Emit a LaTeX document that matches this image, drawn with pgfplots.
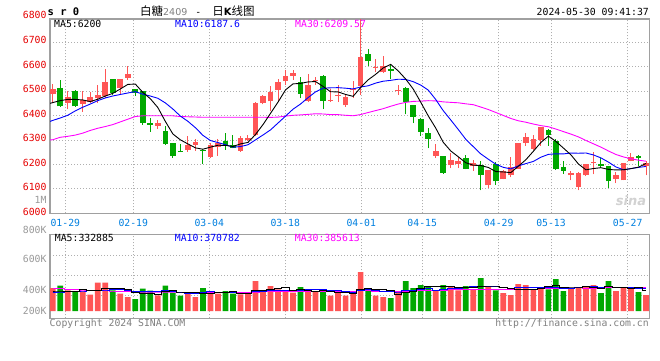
\documentclass[border=0pt]{standalone}
\usepackage{pgfplots}
\pgfplotsset{compat=1.18}
\usepackage{pgfplotstable}
\usepackage{fontspec}
\setmainfont{DejaVu Sans}
\newfontfamily\mono{DejaVu Sans Mono}
\newfontfamily\cjk{Noto Sans CJK SC}
\definecolor{cred}{RGB}{255,85,85}
\definecolor{cgreen}{RGB}{0,168,0}
\definecolor{pred}{RGB}{230,0,0}
\definecolor{dblue}{RGB}{0,128,224}
\definecolor{lgray}{RGB}{153,153,153}
\definecolor{gridc}{RGB}{175,175,175}
\definecolor{bordc}{RGB}{160,160,160}
\definecolor{mamag}{RGB}{255,0,255}
\definecolor{mablue}{RGB}{0,0,255}
\newcommand{\tf}{\mono\fontsize{9.8}{10}\selectfont}

\pgfplotstableread{
k o h l c
0 6490 6531 6450 6507
2 6450 6500 6426 6474
4 6447 6500 6415 6462
5 6455 6496 6450 6474
6 6470 6527 6453 6486
7 6480 6591 6473 6539
9 6511 6551 6490 6551
10 6554 6601 6547 6568
14 6358 6382 6347 6371
18 6261 6315 6252 6279
19 6281 6304 6256 6290
21 6231 6288 6228 6279
22 6270 6304 6236 6288
25 6256 6315 6252 6309
26 6301 6320 6297 6309
27 6320 6455 6315 6450
28 6450 6486 6446 6480
29 6458 6520 6419 6496
30 6503 6550 6459 6539
31 6541 6588 6527 6560
32 6561 6588 6547 6573
34 6459 6572 6455 6527
35 6541 6557 6527 6547
37 6462 6509 6455 6465
38 6480 6527 6455 6486
39 6442 6485 6436 6474
40 6503 6543 6473 6509
41 6520 6795 6486 6639
43 6596 6631 6577 6599
44 6577 6645 6574 6604
46 6503 6523 6486 6506
51 6236 6284 6227 6255
53 6196 6247 6185 6219
54 6202 6232 6185 6215
56 6192 6219 6175 6204
58 6114 6179 6104 6179
60 6139 6179 6139 6174
61 6155 6232 6147 6191
62 6182 6288 6182 6288
63 6288 6327 6277 6312
64 6263 6320 6261 6304
65 6300 6354 6277 6354
69 6155 6175 6135 6166
70 6108 6169 6094 6166
71 6155 6202 6152 6201
72 6205 6250 6159 6208
75 6141 6169 6124 6155
76 6135 6205 6135 6205
77 6212 6247 6212 6231
79 6192 6212 6155 6205
}\upc

\pgfplotstableread{
k o h l c
1 6511 6545 6435 6438
3 6500 6503 6435 6438
8 6551 6551 6486 6493
11 6507 6509 6480 6493
12 6499 6500 6362 6370
13 6371 6389 6334 6362
15 6336 6358 6279 6284
16 6288 6288 6228 6236
17 6256 6284 6250 6250
20 6261 6263 6202 6256
23 6296 6328 6261 6277
24 6280 6320 6266 6267
33 6539 6558 6470 6489
36 6560 6564 6426 6459
42 6653 6673 6601 6622
45 6592 6612 6551 6583
47 6511 6516 6405 6455
48 6442 6442 6369 6396
49 6385 6388 6317 6334
50 6328 6348 6266 6304
52 6233 6236 6162 6164
55 6227 6239 6180 6182
57 6196 6212 6094 6158
59 6202 6209 6117 6131
66 6340 6347 6277 6320
67 6296 6304 6178 6182
68 6191 6212 6162 6175
73 6202 6225 6185 6192
74 6192 6192 6104 6131
78 6235 6239 6192 6225
}\dnc

\pgfplotstableread{
k m5 m10 m30
-0.36 6450 6376 6300
0 6453 6380 6301
1 6461 6390 6311
2 6466 6401 6315
3 6466 6419 6320
4 6463.8 6434 6328
5 6457.2 6447 6339
6 6466.8 6461 6348
7 6479.8 6472 6355
8 6490.8 6480 6363
9 6508.6 6486.2 6374
10 6527.4 6492.3 6385
11 6528.8 6497.8 6396
12 6495 6487.4 6399
13 6468.8 6479.8 6399
14 6432.8 6470.7 6399
15 6376 6451.7 6399
16 6324.6 6426.7 6399
17 6300.6 6397.8 6396
18 6284 6376.4 6395
19 6267.8 6350.3 6394
20 6262.2 6319.1 6393
21 6270.8 6297.7 6393
22 6278.4 6289.5 6393
23 6278 6281 6393
24 6273.4 6270.6 6393
25 6284 6273.1 6393
26 6290 6280.4 6393
27 6322.4 6300.4 6393
28 6363 6320.5 6393
29 6408.8 6341.1 6392.5
30 6454.8 6369.4 6393.6
31 6505 6397.5 6397.7
32 6529.6 6426 6401
33 6531.4 6447.2 6402.7
34 6537.6 6473.2 6404.8
35 6539.2 6497 6407.3
36 6519 6512 6406.4
37 6497.4 6513.5 6403.9
38 6496.8 6514.1 6403.7
39 6486.2 6511.9 6401.1
40 6478.6 6508.9 6399.1
41 6514.6 6516.8 6404
42 6546 6521.7 6412.4
43 6568.6 6532.7 6420.3
44 6594.6 6540.4 6428.1
45 6609.4 6544 6438
46 6582.8 6548.7 6447
47 6549.4 6547.7 6453.9
48 6508.8 6538.7 6457.8
49 6454.8 6524.7 6459.2
50 6399 6504.2 6460.8
51 6348.8 6465.8 6460
52 6290.6 6420 6455.9
53 6255.2 6382 6454
54 6231.4 6343.1 6452.2
55 6207 6303 6448
56 6196.8 6272.8 6444.5
57 6195.6 6243.1 6434.8
58 6187.6 6221.4 6424.7
59 6170.8 6201.1 6412.6
60 6169.2 6188.1 6400.4
61 6166.6 6181.7 6388.1
62 6192.6 6194.1 6378.6
63 6219.2 6203.4 6372.7
64 6253.8 6212.3 6365.3
65 6289.8 6229.5 6358.8
66 6315.6 6241.1 6354.2
67 6294.4 6243.5 6344.8
68 6267 6243.1 6334.4
69 6239.4 6246.6 6324.1
70 6201.8 6245.8 6312.7
71 6178 6246.8 6298.1
72 6183.2 6238.8 6284.3
73 6186.6 6226.8 6270.7
74 6179.6 6209.5 6255
75 6177.4 6189.6 6240.7
76 6178.2 6178.1 6230.7
77 6182.8 6183 6223.2
78 6189 6187.8 6217.4
79 6203.8 6191.7 6213.1
}\pma

\pgfplotstableread{
k v
0 379.5
2 341
4 324.5
5 269.5
6 467.5
7 467.5
9 286
10 231
14 258.5
18 313.5
19 231
21 297
22 286
25 275
26 286
27 495
28 330
29 412.5
30 357.5
31 313.5
32 302.5
34 313.5
35 313.5
37 253
38 330
39 253
40 286
41 643.5
43 253
44 231
46 313.5
51 341
53 396
54 341
56 352
58 412.5
60 297
61 264
62 445.5
63 429
64 357.5
65 396
69 368.5
70 396
71 396
72 429
75 330
76 396
77 368.5
79 264
}\vup

\pgfplotstableread{
k v
1 418
3 324.5
8 341
11 198
12 368.5
13 335.5
15 418
16 302.5
17 253
20 379.5
23 330
24 286
33 396
36 341
42 357.5
45 214.5
47 495
48 379.5
49 429
50 412.5
52 429
55 412.5
57 544.5
59 341
66 357.5
67 528
68 330
73 297
74 495
78 313.5
}\vdn

\pgfplotstableread{
k m5 m10 m30
0 330 308 368.5
1 330 313.5 368.5
2 325 319 357.5
3 325 324.5 352
4 357.5 330 346.5
5 335.5 335.5 341
6 345.4 341 335.5
7 370.7 346.5 335.5
8 374 352 330
9 366.3 361.9 324.5
10 358.6 347.1 319
11 304.7 325.1 313.5
12 284.9 327.8 313.5
13 283.8 328.9 313.5
14 278.3 322.3 313.5
15 315.7 337.2 313.5
16 336.6 320.7 313.5
17 313.5 299.2 313.5
18 309.1 296.5 313.5
19 303.6 291 313.5
20 295.9 305.8 313.5
21 294.8 315.7 308
22 301.4 307.5 308
23 304.7 306.9 308
24 315.7 309.7 308
25 294.8 295.4 308
26 292.6 293.7 308
27 334.4 317.9 313.5
28 334.4 319.6 319
29 359.7 337.7 330.2
30 376.2 335.5 329.5
31 381.7 337.2 326
32 343.2 338.8 324.7
33 356.4 345.4 327.1
34 336.6 348.2 326.7
35 327.8 352 328.2
36 333.3 357.5 324
37 323.4 333.3 316.8
38 310.2 333.3 316.4
39 298.1 317.4 315.3
40 292.6 310.2 317.2
41 353.1 343.2 332
42 374 348.7 331.7
43 358.6 334.4 328.9
44 354.2 326.2 328
45 339.9 316.3 321.2
46 273.9 313.5 321.6
47 301.4 337.7 329.6
48 326.7 342.7 331.8
49 366.3 360.3 338.4
50 405.9 372.9 339.5
51 411.4 342.7 341
52 398.2 349.8 345.8
53 401.5 364.1 348
54 383.9 375.1 349.8
55 383.9 394.9 354.4
56 386.1 398.8 356.6
57 409.2 403.7 358.2
58 412.5 407 361
59 412.5 398.2 358.6
60 389.4 386.7 356.6
61 371.8 379 354.9
62 352 380.6 359.7
63 355.3 383.9 360.8
64 358.6 385.6 362.3
65 378.4 383.9 365
66 397.1 384.5 365.6
67 413.6 382.8 374.7
68 393.8 374.6 374.7
69 396 377.3 378.6
70 396 387.2 382.3
71 403.7 400.4 374
72 383.9 398.8 376.4
73 377.3 385.6 377.9
74 402.6 399.3 386.7
75 389.4 392.7 390.5
76 389.4 396.6 393.3
77 377.3 380.6 389
78 380.6 379 386.8
79 334.4 368.5 381.3
}\vma

\pgfplotsset{
  kbase/.style={
    scale only axis, width=599.3pt,
    xmin=-0.36, xmax=79.44,
    axis line style={draw=bordc, line width=1.2pt},
    xtick={1.68,10.73,20.85,30.97,41.09,49.2,59.39,66.35,76.56},
    major tick length=0pt,
    grid=major,
    major grid style={draw=gridc, dash pattern=on 1pt off 2pt, line width=0.9pt},
  },
  wick/.style={draw=none, mark=none, forget plot,
    error bars/.cd, y dir=plus, y explicit, error mark=none,
    error bar style={draw=#1, line width=1pt}},
  body/.style={draw=none, mark=none, forget plot,
    error bars/.cd, y dir=plus, y explicit, error mark=none,
    error bar style={draw=#1, line width=5.7pt}},
}

\begin{document}
\begin{tikzpicture}
\useasboundingbox (0,0) rectangle (660pt,-360pt);
\fill[white] (0,0) rectangle (660pt,-360pt);

% price panel
\begin{axis}[kbase,
  at={(50pt,-213.3pt)}, anchor=south west,
  height=194.3pt,
  ymin=6000, ymax=6795,
  xticklabels={01-29,02-19,03-04,03-18,04-01,04-15,04-29,05-13,05-27},
  ytick={6000,6100,6200,6300,6400,6500,6600,6700},
  yticklabels={6000,6100,6200,6300,6400,6500,6600,6700},
  xticklabel style={font=\tf, text=dblue, anchor=base, inner sep=0pt, yshift=-12.7pt},
  yticklabel style={font=\tf, text=pred, anchor=base east, inner sep=0pt, xshift=-3.3pt, yshift=-1.7pt},
]
\addplot[wick=cred] table[x=k, y=l, y error expr=\thisrow{h}-\thisrow{l}] {\upc};
\addplot[wick=cgreen] table[x=k, y=l, y error expr=\thisrow{h}-\thisrow{l}] {\dnc};
\addplot[body=cred] table[x=k, y=o, y error expr=\thisrow{c}-\thisrow{o}] {\upc};
\addplot[body=cgreen] table[x=k, y=c, y error expr=\thisrow{o}-\thisrow{c}] {\dnc};
\addplot[mamag, line width=0.9pt, mark=none] table[x=k, y=m30] {\pma};
\addplot[mablue, line width=0.9pt, mark=none] table[x=k, y=m10] {\pma};
\addplot[black, line width=0.9pt, mark=none] table[x=k, y=m5] {\pma};
\end{axis}

% volume panel
\begin{axis}[kbase,
  at={(50pt,-318.3pt)}, anchor=south west,
  height=83.8pt,
  ymin=-120.5, ymax=1262,
  xticklabels={,,,,,,,,}, ytick={259,589,919}, yticklabels={,,},
]
\addplot[ybar, bar width=5.7pt, bar shift=0pt, fill=cred, draw=none] table[x=k, y=v] {\vup};
\addplot[ybar, bar width=5.7pt, bar shift=0pt, fill=cgreen, draw=none] table[x=k, y=v] {\vdn};
\addplot[mamag, line width=0.9pt, mark=none, const plot mark mid] table[x=k, y=m30] {\vma};
\addplot[mablue, line width=0.9pt, mark=none, const plot mark mid] table[x=k, y=m10] {\vma};
\addplot[black, line width=0.9pt, mark=none, const plot mark mid] table[x=k, y=m5] {\vma};
\end{axis}

% texts
\node[anchor=base west, inner sep=0pt, font=\mono\bfseries\fontsize{10.5}{11}\selectfont] at (47.5pt,-15.7pt) {s r 0};
\node[anchor=base west, inner sep=0pt] at (140pt,-15.5pt) {{\cjk\fontsize{11.5}{12}\selectfont 白糖}{\color{gray}\fontsize{9.5}{10}\selectfont 2409}\hspace{8pt}{\tf -}\hspace{11pt}{\cjk\fontsize{11.5}{12}\selectfont 日}{\fontsize{10}{12}\selectfont\bfseries K}{\cjk\fontsize{11.5}{12}\selectfont 线图}};
\node[anchor=base east, inner sep=0pt, font=\tf] at (649pt,-15pt) {2024-05-30 09:41:37};
\node[anchor=base east, inner sep=0pt, font=\tf, text=pred] at (46.7pt,-18.3pt) {6800};
\node[anchor=base east, inner sep=0pt, font=\tf, text=lgray] at (46.7pt,-203.3pt) {1M};

\node[anchor=base west, inner sep=0pt, font=\tf] at (54pt,-27.3pt) {MA5:6200};
\node[anchor=base west, inner sep=0pt, font=\tf, text=mablue] at (175pt,-27.3pt) {MA10:6187.6};
\node[anchor=base west, inner sep=0pt, font=\tf, text=mamag] at (295pt,-27.3pt) {MA30:6209.57};

\node[anchor=base east, inner sep=0pt, font=\tf, text=lgray] at (46.7pt,-233.3pt) {800K};
\node[anchor=base east, inner sep=0pt, font=\tf, text=lgray] at (46.7pt,-262.3pt) {600K};
\node[anchor=base east, inner sep=0pt, font=\tf, text=lgray] at (46.7pt,-293.3pt) {400K};
\node[anchor=base east, inner sep=0pt, font=\tf, text=lgray] at (46.7pt,-314.3pt) {200K};

\node[anchor=base west, inner sep=0pt, font=\tf] at (54.7pt,-241.5pt) {MA5:332885};
\node[anchor=base west, inner sep=0pt, font=\tf, text=mablue] at (174.7pt,-241.5pt) {MA10:370782};
\node[anchor=base west, inner sep=0pt, font=\tf, text=mamag] at (294.7pt,-241.5pt) {MA30:385613};

\node[anchor=base west, inner sep=0pt, font=\tf, text=gray] at (49.5pt,-326.7pt) {Copyright 2024 SINA.COM};
\node[anchor=base east, inner sep=0pt, font=\tf, text=gray] at (649pt,-326.7pt) {http://finance.sina.com.cn};

\node[anchor=center, inner sep=0pt, text=gray!35, font=\bfseries\itshape\fontsize{13}{14}\selectfont] at (631pt,-201pt) {sina};
\end{tikzpicture}
\end{document}
